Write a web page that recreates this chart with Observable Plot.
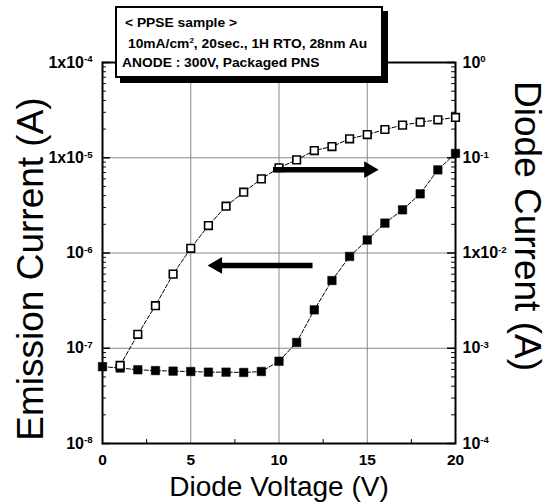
<!DOCTYPE html>
<html><head><meta charset="utf-8">
<script src="https://cdn.jsdelivr.net/npm/d3@7"></script>
<script src="https://cdn.jsdelivr.net/npm/@observablehq/plot@0.6"></script>
<style>
body{margin:0;background:#fff;}
#wrap{position:relative;width:548px;height:504px;}
#box{position:absolute;left:115px;top:6px;width:264px;height:68px;border:2px solid #000;background:#fff;box-shadow:5px 5px 0 #000;font:bold 12px "Liberation Sans",Arial,sans-serif;color:#000;}
#box div{position:absolute;white-space:nowrap;transform:scaleX(1.15);transform-origin:0 50%;}
sup{font-size:7px;}
</style>
</head><body>
<div id="wrap"></div>
<script>
// ---- data ----
const voltage = [0,1,2,3,4,5,6,7,8,9,10,11,12,13,14,15,16,17,18,19,20];
// Emission current (A), left axis, filled squares
const emissionCurrent = [6.4e-8,6.2e-8,5.94e-8,5.83e-8,5.75e-8,5.70e-8,5.61e-8,5.61e-8,5.57e-8,5.70e-8,7.3e-8,1.15e-7,2.53e-7,5.14e-7,9.2e-7,1.37e-6,2.06e-6,2.84e-6,4.18e-6,7.46e-6,1.11e-5];
// Diode current (A), right axis, open squares (from 1 V)
const diodeVoltage = [1,2,3,4,5,6,7,8,9,10,11,12,13,14,15,16,17,18,19,20];
const diodeCurrent = [6.6e-4,1.4e-3,2.8e-3,6.0e-3,1.12e-2,1.94e-2,3.1e-2,4.35e-2,6.0e-2,7.85e-2,9.5e-2,0.119,0.131,0.158,0.175,0.198,0.22,0.236,0.25,0.265];

const xTicks = [0,5,10,15,20];
const leftTicks = [1e-4,1e-5,1e-6,1e-7,1e-8];
const leftLabels = ["1x10^-4","1x10^-5","10^-6","10^-7","10^-8"];
const rightTicks = [1,1e-1,1e-2,1e-3,1e-4];
const rightLabels = ["10^0","10^-1","1x10^-2","10^-3","10^-4"];
const rightToLeft = 1e-4; // right axis spans 1e-4..1 against left 1e-8..1e-4

// arrows (voltage from -> to, at emission-current level)
const arrowFrom = [9.66, 11.9];
const arrowTo = [15.6, 6.0];
const arrowLevel = [7.5e-6, 7.4e-7];

const boxLines = ["< PPSE sample >", "10mA/cm<sup>2</sup>, 20sec., 1H RTO, 28nm Au", "ANODE : 300V, Packaged PNS"];

// ---- build ----
const emission = voltage.map((v,i)=>({v, i: emissionCurrent[i]}));
const diode = diodeVoltage.map((v,i)=>({v, i: diodeCurrent[i]}));
const minor = [];
for (let d=-8; d<-4; d++) for (let m=2; m<=9; m++) minor.push(m*Math.pow(10,d));
const xMinor = [2.5,7.5,12.5,17.5];
const arrows = arrowFrom.map((x1,k)=>({x1, x2: arrowTo[k], y: arrowLevel[k], dir: Math.sign(arrowTo[k]-x1)}));
const rightScaled = rightTicks.map(t=>t*rightToLeft);
const font = '"Liberation Sans", Arial, sans-serif';

const chart = Plot.plot({
  width: 548, height: 504,
  marginLeft: 102, marginRight: 93, marginTop: 62, marginBottom: 61,
  style: {fontFamily: font, background: "transparent", color: "#000"},
  x: {domain: [0,20], axis: null},
  y: {type: "log", domain: [1e-8,1e-4], axis: null},
  marks: [
    Plot.gridX([5,10,15], {stroke: "#888", strokeOpacity: 1, strokeWidth: 1}),
    Plot.gridY([1e-5,1e-6,1e-7], {stroke: "#888", strokeOpacity: 1, strokeWidth: 1}),
    Plot.ruleY(minor, {x1: 0, x2: 0.22, stroke: "#000"}),
    Plot.ruleY(minor, {x1: 19.78, x2: 20, stroke: "#000"}),
    Plot.ruleY(leftTicks, {x1: 0, x2: 0.45, stroke: "#000", strokeWidth: 1.5}),
    Plot.ruleY(leftTicks, {x1: 19.55, x2: 20, stroke: "#000", strokeWidth: 1.5}),
    Plot.ruleX(xMinor, {y1: 1e-8, y2: 1.1e-8, stroke: "#000"}),
    Plot.frame({stroke: "#000", strokeWidth: 2}),
    Plot.axisX({ticks: xTicks, tickSize: 0, tickPadding: 10, fontSize: 15.5, fontWeight: "bold", label: null}),
    Plot.axisY({anchor: "left", ticks: leftTicks, tickSize: 0, tickPadding: 10, fontSize: 16, fontWeight: "bold", label: null,
      tickFormat: d => leftLabels[leftTicks.findIndex(t => Math.abs(Math.log10(t)-Math.log10(d))<1e-6)]}),
    Plot.axisY({anchor: "right", ticks: rightScaled, tickSize: 0, tickPadding: 7, fontSize: 16, fontWeight: "bold", label: null,
      tickFormat: d => rightLabels[rightScaled.findIndex(t => Math.abs(Math.log10(t)-Math.log10(d))<1e-6)]}),
    Plot.line(emission, {x: "v", y: "i", stroke: "#000", strokeWidth: 1, strokeDasharray: "4,2"}),
    Plot.line(diode, {x: "v", y: d => d.i*rightToLeft, stroke: "#000", strokeWidth: 1, strokeDasharray: "4,2"}),
    Plot.dot(emission, {x: "v", y: "i", symbol: "square", r: 4.8, fill: "#000", stroke: "#000", strokeWidth: 0.5}),
    Plot.dot(diode, {x: "v", y: d => d.i*rightToLeft, symbol: "square", r: 4.3, fill: "#fff", stroke: "#000", strokeWidth: 1.6}),
    Plot.link(arrows, {x1: "x1", x2: d => d.x2 - d.dir*0.5, y1: "y", y2: "y", stroke: "#000", strokeWidth: 5.5}),
    Plot.dot(arrows, {x: d => d.x2 - d.dir*0.5, y: "y", symbol: "triangle", r: 6.2, fill: "#000", stroke: "none", rotate: d => d.dir*90}),
    Plot.text(["Diode Voltage (V)"], {frameAnchor: "bottom", textAnchor: "middle", lineAnchor: "middle", dy: 44, fontSize: 28, text: d => d, fill: "#000"}),
    Plot.text(["Emission Current (A)"], {frameAnchor: "left", textAnchor: "middle", lineAnchor: "middle", dx: -71, dy: 16, rotate: -90, fontSize: 37, text: d => d, fill: "#000"}),
    Plot.text(["Diode Current (A)"], {frameAnchor: "right", textAnchor: "middle", lineAnchor: "middle", dx: 71, dy: -27, rotate: 90, fontSize: 37, text: d => d, fill: "#000"})
  ]
});

// superscripts for tick labels written as base^exp
chart.querySelectorAll("text").forEach(t => {
  if (t.children.length === 0 && t.textContent.includes("^")) {
    const [base, exp] = t.textContent.split("^");
    t.textContent = base;
    const s = document.createElementNS("http://www.w3.org/2000/svg", "tspan");
    s.setAttribute("dy", "-0.55em");
    s.setAttribute("font-size", "0.6em");
    s.textContent = exp;
    t.appendChild(s);
  }
});

const wrap = document.getElementById("wrap");
wrap.appendChild(chart);
const box = document.createElement("div");
box.id = "box";
const pos = [[8,8],[11,29],[5,48]];
boxLines.forEach((l,k) => {
  const d = document.createElement("div");
  d.style.left = pos[k][0]+"px"; d.style.top = pos[k][1]+"px";
  d.innerHTML = l;
  box.appendChild(d);
});
wrap.appendChild(box);
</script>
</body></html>
